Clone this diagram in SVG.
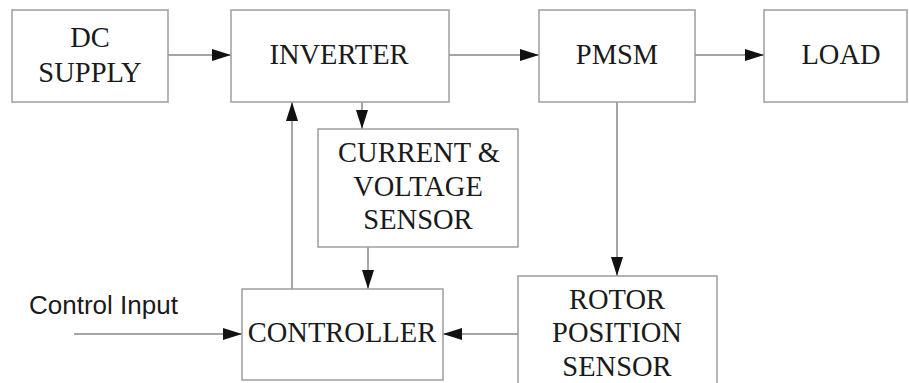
<svg xmlns="http://www.w3.org/2000/svg" width="909" height="383" viewBox="0 0 909 383">
<style>
.box{fill:#fff;stroke:#a09c9c;stroke-width:1.5}
.t{font-family:"Liberation Serif","Times New Roman",serif;font-size:28.5px;fill:#1a1a1a;text-anchor:middle}
.s{font-family:"Liberation Sans",Arial,sans-serif;font-size:26px;fill:#1a1a1a}
.c{fill:none;stroke:#8a8686;stroke-width:1.5}
</style>
<defs>
<marker id="ah" markerUnits="userSpaceOnUse" markerWidth="20" markerHeight="12" refX="19" refY="6" orient="auto">
<path d="M0,0 L19,6 L0,12 Z" fill="#111"/>
</marker>
</defs>
<rect width="909" height="383" fill="#fff"/>
<g id="connectors">
<line class="c" x1="168" y1="55" x2="231" y2="55" marker-end="url(#ah)"/>
<line class="c" x1="449" y1="55" x2="539" y2="55" marker-end="url(#ah)"/>
<line class="c" x1="695" y1="55" x2="764" y2="55" marker-end="url(#ah)"/>
<line class="c" x1="362" y1="102" x2="362" y2="129" marker-end="url(#ah)"/>
<line class="c" x1="292" y1="289" x2="292" y2="102" marker-end="url(#ah)"/>
<line class="c" x1="368" y1="247" x2="368" y2="289" marker-end="url(#ah)"/>
<line class="c" x1="617" y1="102" x2="617" y2="276" marker-end="url(#ah)"/>
<line class="c" x1="518" y1="334" x2="443" y2="334" marker-end="url(#ah)"/>
<line class="c" x1="74" y1="334" x2="242" y2="334" marker-end="url(#ah)"/>
<text class="s" x="29" y="314">Control Input</text>
</g>
<g id="dc-supply">
<rect class="box" x="12" y="10" width="156" height="92"/>
<text class="t" x="90" y="47">DC</text>
<text class="t" x="90" y="82">SUPPLY</text>
</g>
<g id="inverter">
<rect class="box" x="231" y="10" width="218" height="92"/>
<text class="t" x="339" y="64">INVERTER</text>
</g>
<g id="pmsm">
<rect class="box" x="539" y="10" width="156" height="92"/>
<text class="t" x="617" y="64">PMSM</text>
</g>
<g id="load">
<rect class="box" x="764" y="10" width="143" height="92"/>
<text class="t" x="841" y="64">LOAD</text>
</g>
<g id="cv-sensor">
<rect class="box" x="318" y="129" width="200" height="118"/>
<text class="t" x="419" y="162">CURRENT &amp;</text>
<text class="t" x="418" y="196">VOLTAGE</text>
<text class="t" x="418" y="229">SENSOR</text>
</g>
<g id="controller">
<rect class="box" x="242" y="289" width="201" height="91"/>
<text class="t" x="342" y="342">CONTROLLER</text>
</g>
<g id="rotor-sensor">
<rect class="box" x="518" y="276" width="199" height="120"/>
<text class="t" x="617" y="309">ROTOR</text>
<text class="t" x="617" y="342">POSITION</text>
<text class="t" x="617" y="376">SENSOR</text>
</g>
</svg>
